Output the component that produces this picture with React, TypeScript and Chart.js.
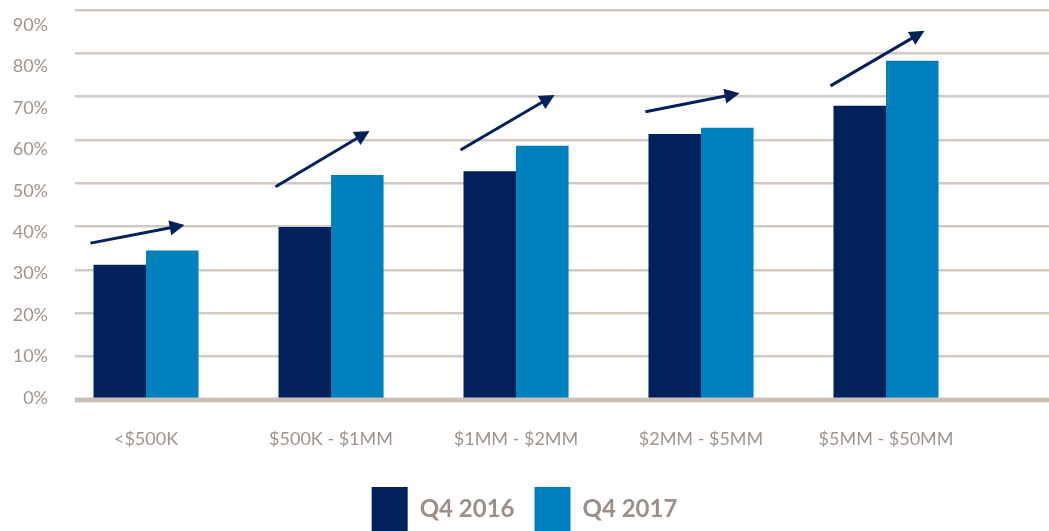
import React, { useEffect, useRef } from "react";
import { Chart, registerables } from "chart.js";

Chart.register(...registerables);

const categories = ["<$500K", "$500K - $1MM", "$1MM - $2MM", "$2MM - $5MM", "$5MM - $50MM"];
const q2016 = [31.2, 39.9, 52.8, 61.4, 67.9];
const q2017 = [34.5, 51.9, 58.7, 62.8, 78.3];
const arrowFrom = [36.2, 49.2, 57.7, 66.5, 72.5];
const arrowTo = [40.4, 62.1, 70.4, 70.8, 85.2];
const yTickValues = [0, 10, 20, 30, 40, 50, 60, 70, 80, 90];
const seriesNames = ["Q4 2016", "Q4 2017"];

const NAVY = "#00215a";
const BLUE = "#0080bd";
const GRID = "#d2c9c3";
const TEXT = "#a0948d";

const arrowPlugin = {
  id: "arrows",
  afterDatasetsDraw(chart: any) {
    const ctx = chart.ctx;
    const m0 = chart.getDatasetMeta(0);
    const m1 = chart.getDatasetMeta(1);
    const ys = chart.scales.y;
    ctx.save();
    ctx.strokeStyle = NAVY;
    ctx.fillStyle = NAVY;
    ctx.lineWidth = 3;
    arrowFrom.forEach((v, i) => {
      const b0 = m0.data[i];
      const b1 = m1.data[i];
      const x0 = b0.x - b0.width / 2 - 3;
      const x1 = b1.x + b1.width / 2 - 14;
      const y0 = ys.getPixelForValue(v);
      const y1 = ys.getPixelForValue(arrowTo[i]);
      const ang = Math.atan2(y1 - y0, x1 - x0);
      const hl = 15;
      const hw = 7.5;
      const bx = x1 - hl * Math.cos(ang);
      const by = y1 - hl * Math.sin(ang);
      ctx.beginPath();
      ctx.moveTo(x0, y0);
      ctx.lineTo(bx + 2 * Math.cos(ang), by + 2 * Math.sin(ang));
      ctx.stroke();
      ctx.beginPath();
      ctx.moveTo(x1, y1);
      ctx.lineTo(bx - hw * Math.sin(ang), by + hw * Math.cos(ang));
      ctx.lineTo(bx + hw * Math.sin(ang), by - hw * Math.cos(ang));
      ctx.closePath();
      ctx.fill();
    });
    ctx.restore();
  },
};

const baselinePlugin = {
  id: "baseline",
  afterDatasetsDraw(chart: any) {
    const ctx = chart.ctx;
    const y = chart.scales.y.getPixelForValue(0);
    const { left, right } = chart.chartArea;
    ctx.save();
    ctx.strokeStyle = "#cbc2bc";
    ctx.lineWidth = 5;
    ctx.beginPath();
    ctx.moveTo(left, y);
    ctx.lineTo(right, y);
    ctx.stroke();
    ctx.restore();
  },
};

export default function App() {
  const ref = useRef<HTMLCanvasElement | null>(null);

  useEffect(() => {
    if (!ref.current) return;
    Chart.defaults.font.family = "Lato";
    const chart = new Chart(ref.current, {
      type: "bar",
      data: {
        datasets: [
          {
            label: seriesNames[0],
            data: q2016.map((v, i) => ({ x: i, y: v })),
            backgroundColor: NAVY,
            borderWidth: 0,
          },
          {
            label: seriesNames[1],
            data: q2017.map((v, i) => ({ x: i, y: v })),
            backgroundColor: BLUE,
            borderWidth: 0,
          },
        ],
      },
      options: {
        animation: false,
        responsive: true,
        maintainAspectRatio: false,
        layout: { padding: { top: 10, left: 0, right: 0, bottom: 0 } },
        datasets: { bar: { categoryPercentage: 0.568, barPercentage: 1 } },
        plugins: {
          tooltip: { enabled: false },
          legend: {
            position: "bottom",
            labels: {
              boxWidth: 36,
              boxHeight: 44,
              padding: 20,
              color: "#9b8f88",
              font: { family: "Lato", size: 24, weight: "bold" },
            },
          },
        },
        scales: {
          x: {
            type: "linear",
            min: -0.384,
            max: 4.881,
            offset: false,
            grid: { display: false, offset: false, drawTicks: false },
            border: { display: false },
            afterBuildTicks: (s: any) => {
              s.ticks = categories.map((_, i) => ({ value: i }));
            },
            afterFit: (s: any) => {
              s.height = 67;
              s.paddingLeft = 0;
              s.paddingRight = 0;
            },
            ticks: {
              autoSkip: false,
              maxRotation: 0,
              padding: 28,
              color: TEXT,
              font: { family: "Lato", size: 18 },
              callback: (v: any) => categories[v] ?? "",
            },
          },
          y: {
            position: "left",
            min: 0,
            max: 90,
            afterBuildTicks: (s: any) => {
              s.ticks = yTickValues.map((v) => ({ value: v }));
            },
            afterFit: (s: any) => {
              s.width = 0;
              s.paddingTop = 0;
              s.paddingBottom = 0;
            },
            ticks: { display: false },
            border: { display: false },
            grid: {
              color: GRID,
              drawTicks: false,
              lineWidth: (c: any) => (c.tick && c.tick.value === 0 ? 0 : 2.5),
            },
          },
          y2: {
            position: "left",
            min: -0.48,
            max: 93.6,
            afterBuildTicks: (s: any) => {
              s.ticks = yTickValues.map((v) => ({ value: v }));
            },
            afterFit: (s: any) => {
              s.width = 75;
              s.paddingTop = 0;
              s.paddingBottom = 0;
            },
            grid: { display: false, drawTicks: false },
            border: { display: false },
            ticks: {
              padding: 27,
              color: TEXT,
              font: { family: "Lato", size: 18 },
              callback: (v: any) => v + "%",
            },
          },
        },
      },
      plugins: [arrowPlugin, baselinePlugin],
    } as any);
    return () => chart.destroy();
  }, []);

  return (
    <div style={{ position: "fixed", left: 0, top: 0, width: 1049, height: 531, overflow: "hidden", background: "#fff" }}>
      <div style={{ position: "relative", width: 1049, height: 541 }}>
        <canvas ref={ref} />
      </div>
    </div>
  );
}
